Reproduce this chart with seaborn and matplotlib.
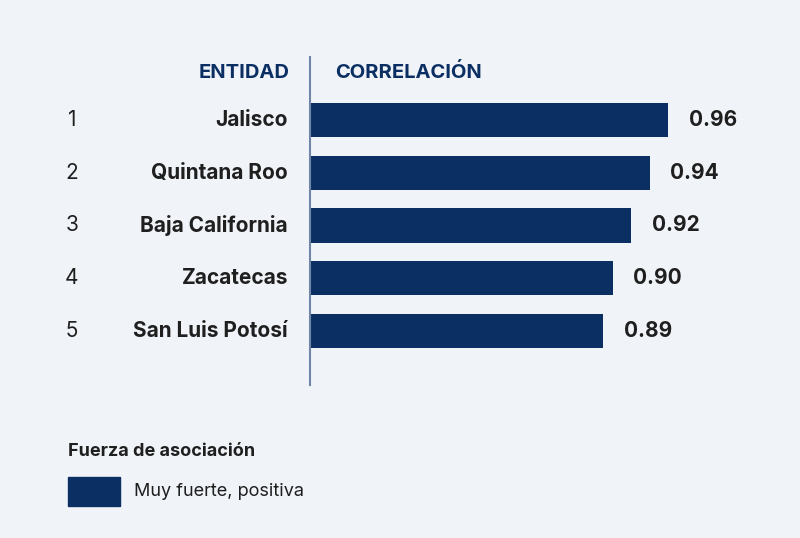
import matplotlib
matplotlib.use("Agg")
import matplotlib.pyplot as plt
import seaborn as sns
import pandas as pd
from matplotlib.patches import Rectangle

ranks = ["1", "2", "3", "4", "5"]
entidades = ["Jalisco", "Quintana Roo", "Baja California", "Zacatecas", "San Luis Potosí"]
correlacion = [0.96, 0.94, 0.92, 0.90, 0.89]

navy = "#0b2f63"
bg = "#f0f3f8"
txt = "#1f1f1f"
plt.rcParams["font.family"] = "Inter"

W, H = 800, 538
fig = plt.figure(figsize=(8, 5.38), dpi=100, facecolor=bg)
ax = fig.add_axes([310 / W, 1 - 385 / H, 1 - 310 / W, (385 - 57) / H])
ax.set_facecolor(bg)
df = pd.DataFrame({"ent": entidades, "v": correlacion})
sns.barplot(data=df, x="v", y="ent", orient="h", color=navy, width=0.65, ax=ax, saturation=1)
ax.set_xlim(0.574, 1.102)
ax.set_ylim(5.02, -1.19)
for s in ["top", "right", "bottom"]:
    ax.spines[s].set_visible(False)
ax.spines["left"].set_color("#6f86a6")
ax.spines["left"].set_linewidth(1.5)
ax.set_xticks([]); ax.set_yticks([])
ax.set_xlabel(""); ax.set_ylabel("")

for i, (r, e, v) in enumerate(zip(ranks, entidades, correlacion)):
    ax.text(v + 0.022, i, f"{v:.2f}", va="center", ha="left", fontsize=15, fontweight="bold", color=txt)
    y = 1 - (120 + 52.75 * i) / H
    fig.text(72 / W, y, r, ha="center", va="center", fontsize=15, color=txt)
    fig.text(288 / W, y, e, ha="right", va="center", fontsize=15, fontweight="bold", color=txt)

fig.text(290 / W, 1 - 73 / H, "ENTIDAD", ha="right", va="center", fontsize=14.5, fontweight="bold", color=navy)
fig.text(335 / W, 1 - 73 / H, "CORRELACIÓN", ha="left", va="center", fontsize=14.5, fontweight="bold", color=navy)
for t in fig.texts[-2:]:
    pass

fig.text(68 / W, 1 - 451 / H, "Fuerza de asociación", ha="left", va="center", fontsize=13, fontweight="bold", color=txt)
fig.patches.append(Rectangle((68 / W, 1 - 506 / H), 52 / W, 29 / H, transform=fig.transFigure, color=navy))
fig.text(134 / W, 1 - 491 / H, "Muy fuerte, positiva", ha="left", va="center", fontsize=13, color=txt)

fig.savefig("out.png", dpi=100, facecolor=bg)
